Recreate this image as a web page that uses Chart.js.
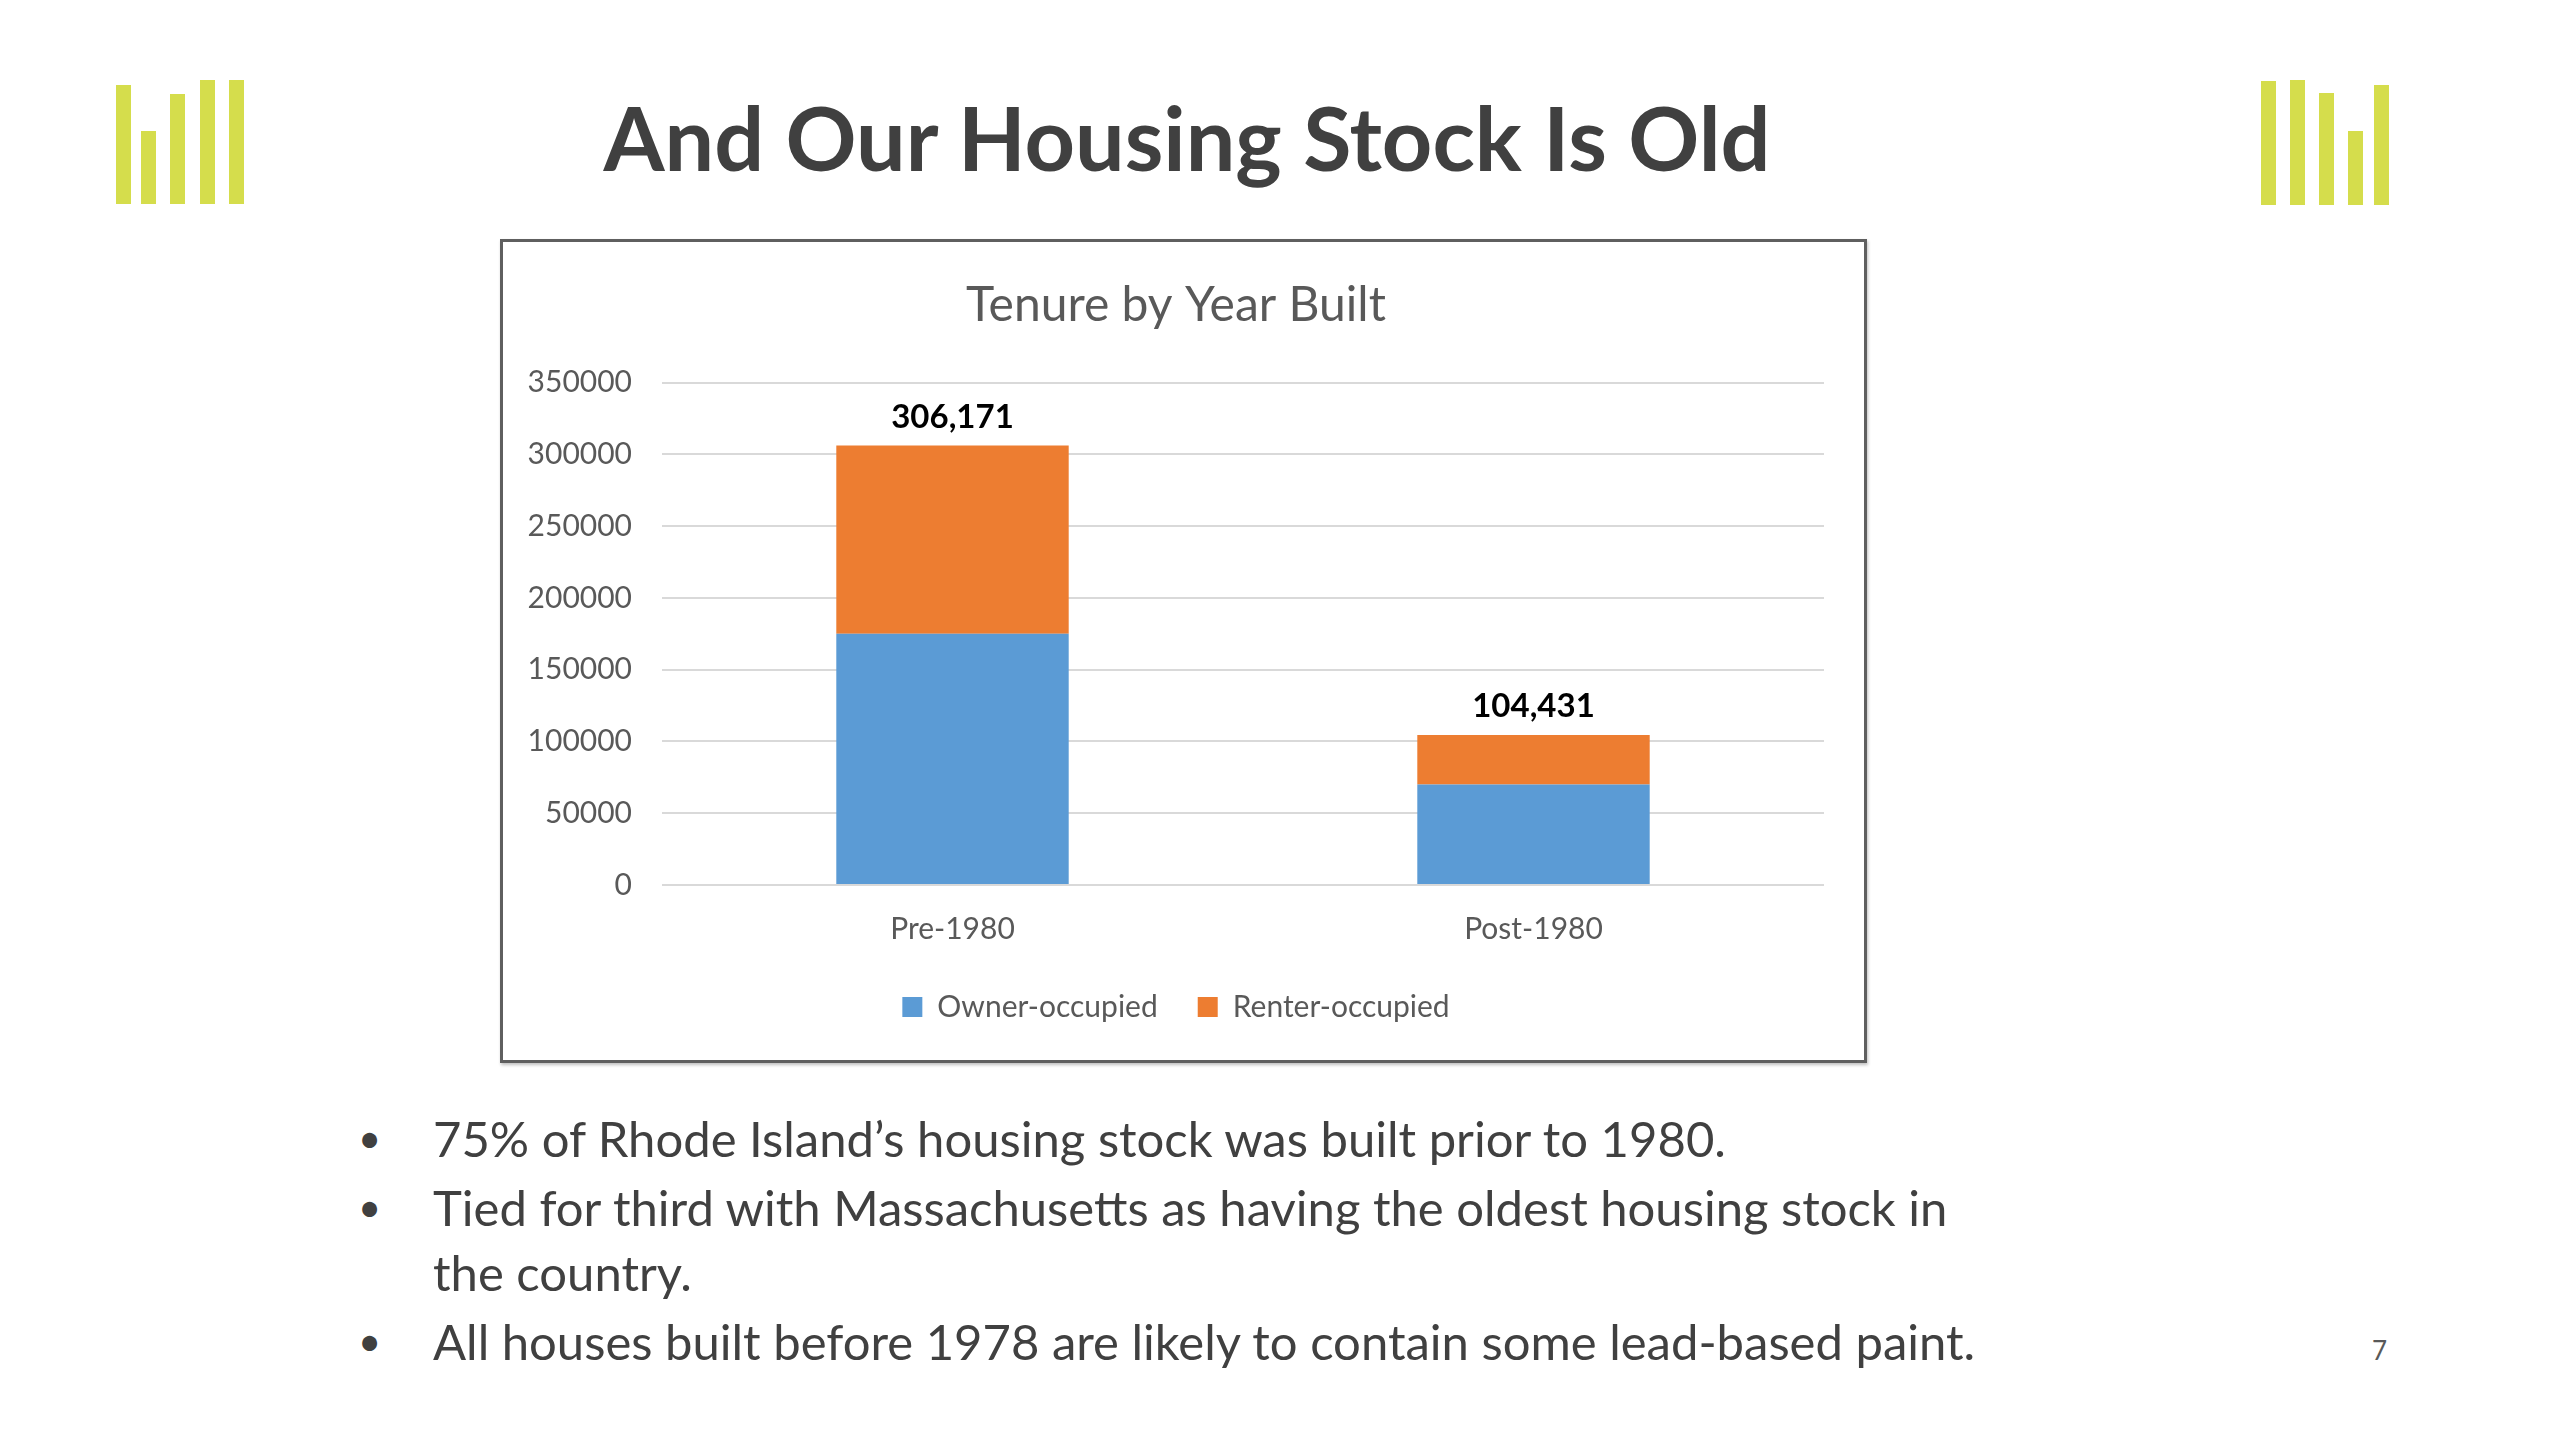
<!DOCTYPE html>
<html>
<head>
<meta charset="utf-8">
<script src="https://cdn.jsdelivr.net/npm/chart.js@4.4.1/dist/chart.umd.min.js"></script>
<style>
    html, body { margin: 0; padding: 0; background: #ffffff; }
    body { width: 2560px; height: 1440px; position: relative; overflow: hidden; font-family: Lato, "Open Sans", sans-serif; }
    .logo { position: absolute; top: 0; left: 0; }
    .logo div { position: absolute; width: 15px; background: #d5dd4c; }
    h1 { position: absolute; left: 0; width: 2374px; top: 87px; margin: 0; text-align: center;
         font-size: 88px; font-weight: 700; color: #404040; line-height: 100px; }
    .chart-box { position: absolute; left: 500px; top: 239px; width: 1367px; height: 824px;
                 box-sizing: border-box; border: 3px solid #5f5f5f; background: #fff;
                 box-shadow: 1px 2px 3px rgba(0,0,0,0.25); }
    .chart-box .inner { position: absolute; left: 0; top: 0; width: 1361px; height: 818px; }
    ul { position: absolute; left: 0; top: 1106px; margin: 0; padding: 0; list-style: none;
         font-size: 49px; color: #404040; line-height: 65px; }
    li { position: relative; padding-left: 433px; margin-bottom: 4px; }
    li::before { content: "\2022"; position: absolute; left: 358px; top: 0; font-size: 40px; }
    .page-num { position: absolute; left: 2372px; top: 1334px; font-size: 26px; color: #595959; }
</style>
</head>
<body>

<div class="logo" id="logoLeft">
    <div style="left:116px; top:85px; height:119px"></div>
    <div style="left:141px; top:131px; height:73px"></div>
    <div style="left:170px; top:94px; height:110px"></div>
    <div style="left:200px; top:80px; height:124px"></div>
    <div style="left:229px; top:80px; height:124px"></div>
</div>
<div class="logo" id="logoRight">
    <div style="left:2261px; top:81px; height:124px"></div>
    <div style="left:2290px; top:80px; height:125px"></div>
    <div style="left:2319px; top:93px; height:112px"></div>
    <div style="left:2348px; top:131px; height:74px"></div>
    <div style="left:2374px; top:85px; height:120px"></div>
</div>

<h1>And Our Housing Stock Is Old</h1>

<div class="chart-box">
    <div class="inner"><canvas id="tenureChart"></canvas></div>
</div>

<ul>
    <li>75% of Rhode Island’s housing stock was built prior to 1980.</li>
    <li>Tied for third with Massachusetts as having the oldest housing stock in<br>the country.</li>
    <li>All houses built before 1978 are likely to contain some lead-based paint.</li>
</ul>

<div class="page-num">7</div>

<script>
// data
const categories = ['Pre-1980', 'Post-1980'];
const ownerOccupied = [175000, 70000];
const renterOccupied = [131171, 34431];
const yTicks = [0, 50000, 100000, 150000, 200000, 250000, 300000, 350000];

// draws the stack totals above each bar
const totalLabels = {
    id: 'totalLabels',
    afterDatasetsDraw(chart) {
        const ctx = chart.ctx;
        const topMeta = chart.getDatasetMeta(chart.data.datasets.length - 1);
        ctx.save();
        ctx.font = 'bold 33px Lato';
        ctx.fillStyle = '#000000';
        ctx.textAlign = 'center';
        ctx.textBaseline = 'alphabetic';
        topMeta.data.forEach(function(bar, i) {
            const total = ownerOccupied[i] + renterOccupied[i];
            ctx.fillText(total.toLocaleString('en-US'), bar.x, bar.y - 18);
        });
        ctx.restore();
    }
};

function drawChart() {
    Chart.defaults.font.family = 'Lato';
    Chart.defaults.color = '#595959';

    new Chart(document.getElementById('tenureChart').getContext('2d'), {
        type: 'bar',
        data: {
            labels: categories,
            datasets: [
                {
                    label: 'Owner-occupied',
                    data: ownerOccupied,
                    backgroundColor: '#5b9bd5',
                    categoryPercentage: 1,
                    barPercentage: 0.4
                },
                {
                    label: 'Renter-occupied',
                    data: renterOccupied,
                    backgroundColor: '#ed7d31',
                    categoryPercentage: 1,
                    barPercentage: 0.4
                }
            ]
        },
        options: {
            responsive: true,
            maintainAspectRatio: false,
            animation: false,
            layout: {
                padding: { top: 10, left: 25, right: 40, bottom: 28 }
            },
            plugins: {
                title: {
                    display: true,
                    text: 'Tenure by Year Built',
                    color: '#595959',
                    font: { size: 48, weight: 'normal' },
                    padding: { top: 25, bottom: 48 }
                },
                legend: {
                    position: 'bottom',
                    labels: {
                        boxWidth: 20,
                        boxHeight: 20,
                        padding: 40,
                        color: '#595959',
                        font: { size: 30 }
                    }
                },
                tooltip: { enabled: false }
            },
            scales: {
                x: {
                    stacked: true,
                    grid: { display: false, drawTicks: false },
                    border: { display: false },
                    ticks: {
                        color: '#595959',
                        padding: 26,
                        font: { size: 30 }
                    },
                    afterFit: function(scale) { scale.height = 67; }
                },
                y: {
                    stacked: true,
                    min: 0,
                    max: 350000,
                    afterBuildTicks: function(axis) {
                        axis.ticks = yTicks.map(function(v) { return { value: v }; });
                    },
                    afterFit: function(scale) { scale.width = 134; },
                    grid: {
                        color: '#d9d9d9',
                        lineWidth: 2,
                        drawTicks: false
                    },
                    border: { display: false },
                    ticks: {
                        color: '#595959',
                        padding: 30,
                        font: { size: 30 },
                        callback: function(value) { return String(value); }
                    }
                }
            }
        },
        plugins: [totalLabels]
    });
}

if (document.fonts && document.fonts.load) {
    document.fonts.load('30px Lato').then(drawChart, drawChart);
} else {
    drawChart();
}
</script>
</body>
</html>
